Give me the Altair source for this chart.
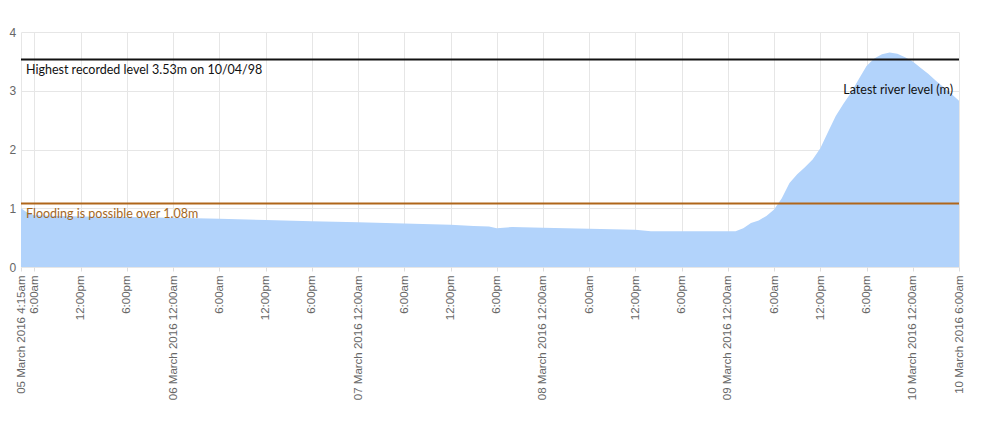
import json
import altair as alt
import pandas as pd

# ---- data ----
times = [
    "2016-03-05T04:15:00Z", "2016-03-05T05:00:00Z", "2016-03-05T06:00:00Z", "2016-03-05T09:00:00Z",
    "2016-03-05T12:00:00Z", "2016-03-05T18:00:00Z", "2016-03-06T00:00:00Z", "2016-03-06T06:00:00Z",
    "2016-03-06T12:00:00Z", "2016-03-06T18:00:00Z", "2016-03-07T00:00:00Z", "2016-03-07T06:00:00Z",
    "2016-03-07T12:00:00Z", "2016-03-07T15:00:00Z", "2016-03-07T17:00:00Z", "2016-03-07T18:00:00Z",
    "2016-03-07T20:00:00Z", "2016-03-08T00:00:00Z", "2016-03-08T06:00:00Z", "2016-03-08T12:00:00Z",
    "2016-03-08T14:00:00Z", "2016-03-08T18:00:00Z", "2016-03-09T00:00:00Z", "2016-03-09T01:00:00Z",
    "2016-03-09T02:00:00Z", "2016-03-09T03:00:00Z", "2016-03-09T04:00:00Z", "2016-03-09T05:00:00Z",
    "2016-03-09T06:00:00Z", "2016-03-09T07:00:00Z", "2016-03-09T08:00:00Z", "2016-03-09T09:00:00Z",
    "2016-03-09T10:00:00Z", "2016-03-09T11:00:00Z", "2016-03-09T12:00:00Z", "2016-03-09T13:00:00Z",
    "2016-03-09T14:00:00Z", "2016-03-09T15:00:00Z", "2016-03-09T16:00:00Z", "2016-03-09T17:00:00Z",
    "2016-03-09T18:00:00Z", "2016-03-09T19:00:00Z", "2016-03-09T20:00:00Z", "2016-03-09T21:00:00Z",
    "2016-03-09T22:00:00Z", "2016-03-09T23:00:00Z", "2016-03-10T00:00:00Z", "2016-03-10T01:00:00Z",
    "2016-03-10T02:00:00Z", "2016-03-10T03:00:00Z", "2016-03-10T04:00:00Z", "2016-03-10T05:00:00Z",
    "2016-03-10T06:00:00Z",
]
levels = [
    1.00, 0.93, 0.88, 0.87,
    0.86, 0.85, 0.84, 0.82,
    0.80, 0.78, 0.76, 0.74,
    0.72, 0.70, 0.69, 0.66,
    0.68, 0.67, 0.65, 0.635,
    0.61, 0.61, 0.61, 0.61,
    0.66, 0.75, 0.79, 0.87,
    0.98, 1.17, 1.43, 1.58,
    1.70, 1.83, 2.02, 2.30,
    2.57, 2.78, 2.97, 3.20,
    3.42, 3.55, 3.62, 3.65,
    3.63, 3.57, 3.50, 3.39,
    3.29, 3.17, 3.06, 2.95,
    2.83,
]

tick_times = [
    "2016-03-05T04:15:00Z", "2016-03-05T06:00:00Z", "2016-03-05T12:00:00Z", "2016-03-05T18:00:00Z",
    "2016-03-06T00:00:00Z", "2016-03-06T06:00:00Z", "2016-03-06T12:00:00Z", "2016-03-06T18:00:00Z",
    "2016-03-07T00:00:00Z", "2016-03-07T06:00:00Z", "2016-03-07T12:00:00Z", "2016-03-07T18:00:00Z",
    "2016-03-08T00:00:00Z", "2016-03-08T06:00:00Z", "2016-03-08T12:00:00Z", "2016-03-08T18:00:00Z",
    "2016-03-09T00:00:00Z", "2016-03-09T06:00:00Z", "2016-03-09T12:00:00Z", "2016-03-09T18:00:00Z",
    "2016-03-10T00:00:00Z", "2016-03-10T06:00:00Z",
]
tick_labels = [
    "05 March 2016 4:15am", "6:00am", "12:00pm", "6:00pm",
    "06 March 2016 12:00am", "6:00am", "12:00pm", "6:00pm",
    "07 March 2016 12:00am", "6:00am", "12:00pm", "6:00pm",
    "08 March 2016 12:00am", "6:00am", "12:00pm", "6:00pm",
    "09 March 2016 12:00am", "6:00am", "12:00pm", "6:00pm",
    "10 March 2016 12:00am", "10 March 2016 6:00am",
]

highest_level = 3.53
highest_text = "Highest recorded level 3.53m on 10/04/98"
flood_level = 1.08
flood_text = "Flooding is possible over 1.08m"
latest_text = "Latest river level (m)"
y_ticks = [0, 1, 2, 3, 4]

# ---- build ----
df = pd.DataFrame({"time": times, "level": levels})
tick_ms = [int(pd.Timestamp(t).value // 10**6) for t in tick_times]
tick_keys = [pd.Timestamp(t).strftime("%d %H:%M") for t in tick_times]
label_expr = (
    json.dumps(tick_labels)
    + "[indexof(" + json.dumps(tick_keys) + ", utcFormat(datum.value, '%d %H:%M'))]"
)

x_scale = alt.Scale(type="utc", domain=[tick_ms[0], tick_ms[-1]], nice=False)
y_scale = alt.Scale(domain=[0, 4], nice=False)

AXIS_FONT = "Liberation Sans"
ANN_FONT = "Lato"

area = alt.Chart(df).mark_area(color="#b2d3fb", opacity=1).encode(
    x=alt.X(
        "time:T",
        scale=x_scale,
        title=None,
        axis=alt.Axis(
            values=tick_ms,
            labelExpr=label_expr,
            labelAngle=-90,
            labelOverlap=False,
            labelFont=AXIS_FONT,
            labelFontSize=11.5,
            labelColor="#666666",
            labelPadding=4,
            tickSize=4,
            tickColor="#dddddd",
            domain=False,
            grid=True,
            gridColor="#e6e6e6",
        ),
    ),
    y=alt.Y(
        "level:Q",
        scale=y_scale,
        title=None,
        axis=alt.Axis(
            values=y_ticks,
            format="d",
            labelFont=AXIS_FONT,
            labelFontSize=12,
            labelColor="#666666",
            labelAlign="left",
            ticks=False,
            labelPadding=12,
            domain=False,
            grid=True,
            gridColor="#e6e6e6",
        ),
    ),
)

ref_df = pd.DataFrame({
    "level": [highest_level, flood_level],
    "text": [highest_text, flood_text],
    "time": [times[0], times[0]],
})

high_rule = alt.Chart(ref_df.iloc[[0]]).mark_rule(color="#111111", strokeWidth=2).encode(
    y=alt.Y("level:Q", scale=y_scale)
)
flood_rule = alt.Chart(ref_df.iloc[[1]]).mark_rule(color="#b0661a", strokeWidth=2).encode(
    y=alt.Y("level:Q", scale=y_scale)
)
high_text = alt.Chart(ref_df.iloc[[0]]).mark_text(
    align="left", baseline="top", dx=5, dy=4, font=ANN_FONT, fontSize=12.5, color="#111111"
).encode(
    x=alt.X("time:T", scale=x_scale),
    y=alt.Y("level:Q", scale=y_scale),
    text="text:N",
)
flood_txt = alt.Chart(ref_df.iloc[[1]]).mark_text(
    align="left", baseline="top", dx=5, dy=4, font=ANN_FONT, fontSize=12.5, color="#a4681f"
).encode(
    x=alt.X("time:T", scale=x_scale),
    y=alt.Y("level:Q", scale=y_scale),
    text="text:N",
)
latest_df = pd.DataFrame({"time": [times[-1]], "level": [levels[-1]], "text": [latest_text]})
latest = alt.Chart(latest_df).mark_text(
    align="right", baseline="bottom", dx=-6, dy=-4, font=ANN_FONT, fontSize=12.5, color="#111111"
).encode(
    x=alt.X("time:T", scale=x_scale),
    y=alt.Y("level:Q", scale=y_scale),
    text="text:N",
)

chart = alt.layer(area, high_rule, flood_rule, high_text, flood_txt, latest).properties(
    width=938,
    height=235,
    autosize=alt.AutoSizeParams(type="none"),
    padding={"left": 13, "top": 24, "right": 30, "bottom": 140},
).configure_view(stroke=None)

chart.save("out.html", embed_options={"renderer": "svg", "actions": False})
